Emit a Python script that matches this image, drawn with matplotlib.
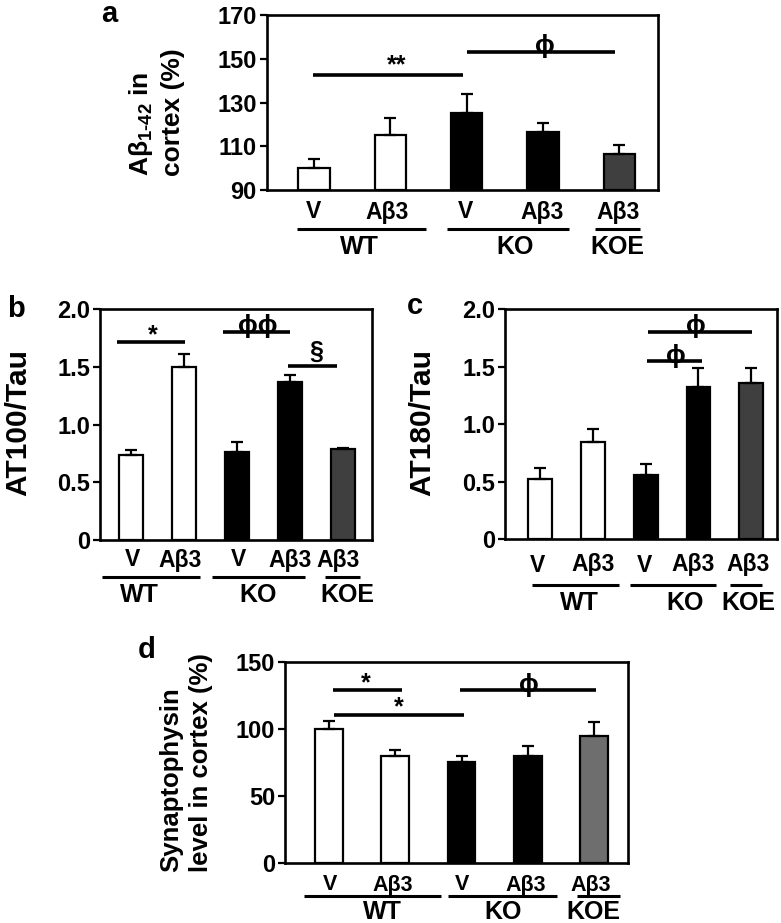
import matplotlib
matplotlib.use("Agg")
import matplotlib.pyplot as plt
import matplotlib.transforms as mtransforms

plt.rcParams['font.family'] = ['Liberation Sans', 'DejaVu Sans']
plt.rcParams['font.weight'] = 'bold'
plt.rcParams['mathtext.fontset'] = 'custom'
plt.rcParams['mathtext.rm'] = 'Liberation Sans:bold'
plt.rcParams['mathtext.it'] = 'Liberation Sans:bold'
plt.rcParams['mathtext.bf'] = 'Liberation Sans:bold'
plt.rcParams['mathtext.default'] = 'rm'

# ---------------- data ----------------
categories = ['V', 'Aβ3', 'V', 'Aβ3', 'Aβ3']
groups = ['WT', 'KO', 'KOE']

a_mean = [100.2, 115.1, 125.0, 116.5, 106.5]
a_err = [4.1, 7.7, 8.7, 4.0, 3.9]
b_mean = [0.74, 1.50, 0.76, 1.37, 0.79]
b_err = [0.04, 0.11, 0.09, 0.06, 0.01]
c_mean = [0.52, 0.84, 0.56, 1.32, 1.36]
c_err = [0.10, 0.12, 0.09, 0.17, 0.13]
d_mean = [100.0, 79.6, 75.1, 80.1, 95.0]
d_err = [5.7, 4.4, 4.5, 7.4, 10.4]

a_ticks = [90, 110, 130, 150, 170]
bc_ticks = [0, 0.5, 1.0, 1.5, 2.0]
bc_ticklabels = ['0', '0.5', '1.0', '1.5', '2.0']
d_ticks = [0, 50, 100, 150]

W, H = 781, 923
fig = plt.figure(figsize=(W / 100, H / 100), dpi=100)


def fy(py):
    return 1 - py / H


def make_ax(l, t, r, b):
    return fig.add_axes([l / W, 1 - b / H, (r - l) / W, (b - t) / H])


def panel(ax, means, errs, colors, width, xlim, ylim, ticks, ticklabels,
          tick_fs, lab_y, lab_pos, line_y, lines, grp_y, grp_pos,
          lab_fs, grp_fs):
    x = list(range(len(means)))
    ax.bar(x, [m - ylim[0] for m in means], bottom=ylim[0], width=width,
           color=colors, edgecolor='black', linewidth=1.6, zorder=2)
    ax.errorbar(x, means, yerr=[[0] * len(errs), errs], fmt='none',
                ecolor='black', elinewidth=1.6, capsize=4, capthick=1.6,
                zorder=3)
    ax.set_xlim(*xlim)
    ax.set_ylim(*ylim)
    ax.set_yticks(ticks)
    ax.set_yticklabels(ticklabels, fontsize=tick_fs, fontweight='bold')
    ax.set_xticks([])
    for s in ax.spines.values():
        s.set_linewidth(1.9)
    ax.tick_params(axis='y', direction='out', length=5, width=1.6, pad=2)
    tr = mtransforms.blended_transform_factory(ax.transData, fig.transFigure)
    for xp, lab in zip(lab_pos, categories):
        ax.text(xp, fy(lab_y), lab, transform=tr, ha='center', va='center',
                fontsize=lab_fs, fontweight='bold')
    for (x0, x1) in lines:
        ax.plot([x0, x1], [fy(line_y)] * 2, transform=tr, color='black',
                lw=2.2, clip_on=False, solid_capstyle='butt')
    for xp, g in zip(grp_pos, groups):
        ax.text(xp, fy(grp_y), g, transform=tr, ha='center', va='center',
                fontsize=grp_fs, fontweight='bold')


def sig(ax, x0, x1, y, txt, tx, ty, fs=17):
    ax.plot([x0, x1], [y, y], color='black', lw=2.6, clip_on=False,
            solid_capstyle='butt', zorder=4)
    ax.text(tx, ty, txt, ha='center', va='center', fontsize=fs,
            fontweight='bold', clip_on=False, zorder=5)


# ---------------- panel a ----------------
axa = make_ax(266.5, 15, 657.5, 190)
panel(axa, a_mean, a_err, ['white', 'white', 'black', 'black', '#3f3f3f'],
      0.41, (-0.62, 4.5), (90, 170), a_ticks, [str(t) for t in a_ticks], 17,
      212, [0, 0.96, 1.98, 2.99, 3.99], 229,
      [(-0.22, 1.47), (1.75, 3.34), (3.68, 4.27)], 247, [0.6, 2.63, 3.98],
      16.5, 18)
sig(axa, -0.01, 1.95, 142.6, '**', 1.09, 147.0, 18)
sig(axa, 2.01, 3.94, 153.2, 'ϕ', 3.03, 155.8, 19)
fig.text(109 / W, fy(14), 'a', ha='center', va='center', fontsize=21,
         fontweight='bold')
fig.text(156 / W, fy(112), 'Aβ$_{1\\text{-}42}$ in\ncortex (%)', rotation=90,
         ha='center', va='center', multialignment='left', fontsize=19,
         fontweight='bold', linespacing=1.35)

# ---------------- panel b ----------------
axb = make_ax(100, 309, 372, 540)
panel(axb, b_mean, b_err, ['white', 'white', 'black', 'black', '#3f3f3f'],
      0.45, (-0.58, 4.54), (0, 2.0), bc_ticks, bc_ticklabels, 17,
      560, [0.04, 0.92, 2.03, 3.0, 3.9], 577,
      [(-0.55, 1.3), (1.53, 3.28), (3.66, 4.32)], 595, [0.17, 2.4, 4.07],
      16.5, 18)
sig(axb, -0.26, 1.02, 1.711, '*', 0.41, 1.77, 18)
sig(axb, 1.73, 2.99, 1.80, 'ϕϕ', 2.39, 1.855, 19)
sig(axb, 2.96, 3.88, 1.51, '§', 3.5, 1.63, 18)
fig.text(16 / W, fy(309), 'b', ha='center', va='center', fontsize=21,
         fontweight='bold')
fig.text(18 / W, fy(422), 'AT100/Tau', rotation=90, ha='center', va='center',
         fontsize=21.5, fontweight='bold')

# ---------------- panel c ----------------
axc = make_ax(505, 309, 777, 539)
panel(axc, c_mean, c_err, ['white', 'white', 'black', 'black', '#3f3f3f'],
      0.45, (-0.67, 4.49), (0, 2.0), bc_ticks, bc_ticklabels, 17,
      565, [-0.06, 1.0, 1.97, 2.9, 3.94], 585,
      [(-0.16, 1.49), (1.7, 3.33), (3.6, 4.2)], 603, [0.75, 2.74, 3.94],
      16.5, 18)
sig(axc, 2.04, 4.01, 1.80, 'ϕ', 2.95, 1.85, 19)
sig(axc, 2.02, 3.07, 1.544, 'ϕ', 2.57, 1.595, 19)
fig.text(415 / W, fy(306), 'c', ha='center', va='center', fontsize=21,
         fontweight='bold')
fig.text(422 / W, fy(423), 'AT180/Tau', rotation=90, ha='center', va='center',
         fontsize=21.5, fontweight='bold')

# ---------------- panel d ----------------
axd = make_ax(285, 662, 627.5, 863)
panel(axd, d_mean, d_err, ['white', 'white', 'black', 'black', '#6e6e6e'],
      0.42, (-0.66, 4.5), (0, 150), d_ticks, [str(t) for t in d_ticks], 17,
      885, [0.02, 0.97, 2.01, 2.96, 3.95], 896,
      [(-0.38, 1.69), (1.8, 3.44), (3.74, 4.38)], 912, [0.8, 2.63, 3.98],
      15.5, 18)
sig(axd, 0.06, 1.11, 128.8, '*', 0.56, 134.0, 18)
sig(axd, 0.08, 2.04, 110.7, '*', 1.05, 116.0, 18)
sig(axd, 1.98, 4.03, 129.3, 'ϕ', 3.02, 132.5, 19)
fig.text(147 / W, fy(650), 'd', ha='center', va='center', fontsize=21,
         fontweight='bold')
fig.text(186 / W, fy(763), 'Synaptophysin\nlevel in cortex (%)', rotation=90,
         ha='center', va='center', multialignment='left', fontsize=18.5,
         fontweight='bold', linespacing=1.3)

fig.savefig('out.png', dpi=100)
